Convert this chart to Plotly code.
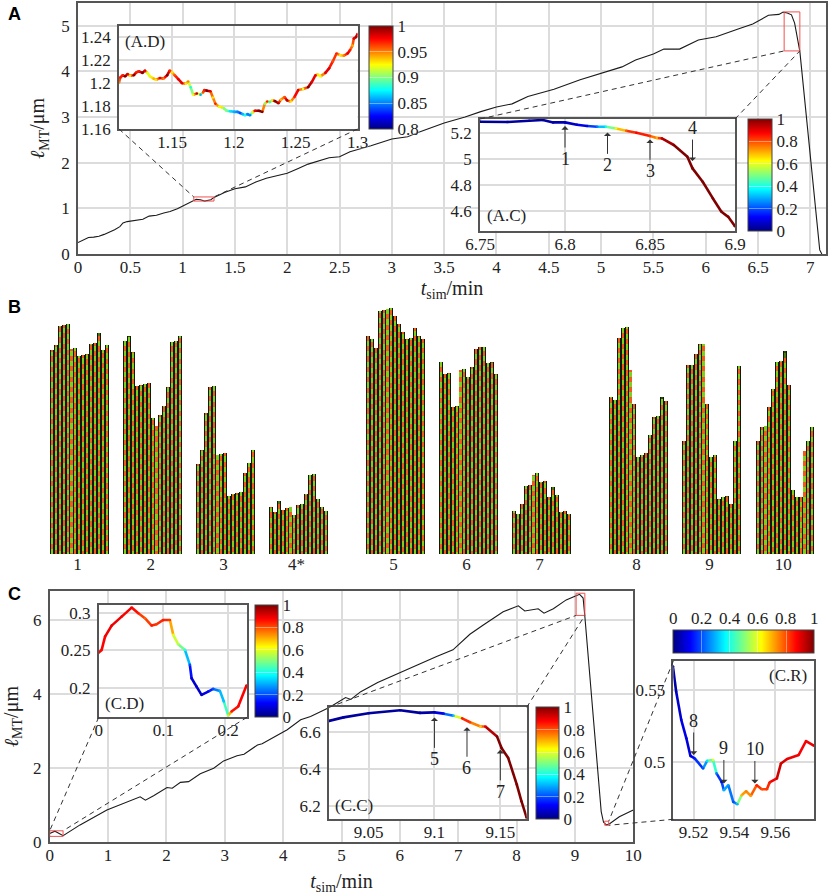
import plotly.graph_objects as go
from plotly.colors import sample_colorscale

W, H = 829, 895

# panel A main trace
a_t = [0, .05, .1, .15, .2, .25, .3, .35, .4, .43, .47, .55, .62, .68, .75, .82, .88, .95, 1.02, 1.08, 1.13, 1.17,
       1.21, 1.27, 1.3, 1.4, 1.5, 1.6, 1.7, 1.8, 2.0, 2.1, 2.2, 2.4, 2.5, 2.6, 2.8, 3.0, 3.15, 3.27, 3.5, 3.7, 3.85,
       4.0, 4.15, 4.3, 4.55, 4.8, 5.05, 5.2, 5.33, 5.5, 5.6, 5.75, 5.93, 6.1, 6.31, 6.45, 6.6, 6.7, 6.74, 6.78, 6.82,
       6.85, 6.9, 7.09, 7.11]
a_len = [.25, .3, .36, .37, .39, .43, .48, .53, .6, .68, .71, .73, .76, .83, .85, .90, .93, .99, 1.07, 1.14, 1.2,
         1.19, 1.16, 1.19, 1.24, 1.35, 1.43, 1.47, 1.58, 1.66, 1.77, 1.87, 1.97, 2.11, 2.13, 2.24, 2.37, 2.52, 2.57,
         2.68, 2.87, 3.0, 3.12, 3.22, 3.29, 3.45, 3.61, 3.82, 4.0, 4.1, 4.25, 4.38, 4.49, 4.49, 4.69, 4.76, 4.93,
         5.04, 5.23, 5.25, 5.30, 5.28, 5.24, 5.06, 4.44, .09, 0]

# inset A.D
ad_t = [1.107, 1.108, 1.110, 1.112, 1.114, 1.116, 1.119, 1.121, 1.123, 1.126,
        1.128, 1.130, 1.132, 1.135, 1.137, 1.140, 1.143, 1.146, 1.148, 1.150,
        1.152, 1.155, 1.158, 1.161, 1.163, 1.165, 1.167, 1.170, 1.173, 1.175,
        1.176, 1.178, 1.181, 1.183, 1.185, 1.188, 1.190, 1.192, 1.194, 1.197,
        1.200, 1.203, 1.205, 1.207, 1.209, 1.211, 1.213, 1.215, 1.217, 1.220,
        1.223, 1.225, 1.227, 1.229, 1.231, 1.233, 1.236, 1.238, 1.241, 1.243,
        1.246, 1.249, 1.252, 1.256, 1.260, 1.263, 1.266, 1.268, 1.270, 1.274,
        1.277, 1.280, 1.283, 1.286, 1.289, 1.292, 1.294, 1.296, 1.297, 1.299, 1.300]
ad_len = [1.2006, 1.205, 1.207, 1.206, 1.208, 1.2065, 1.207, 1.2095, 1.2105, 1.209,
          1.211, 1.209, 1.206, 1.204, 1.203, 1.2045, 1.204, 1.207, 1.211, 1.2095,
          1.207, 1.2035, 1.200, 1.1995, 1.2015, 1.1965, 1.190, 1.191, 1.190, 1.192,
          1.194, 1.1935, 1.193, 1.1875, 1.182, 1.1795, 1.179, 1.178, 1.176, 1.1755,
          1.175, 1.175, 1.174, 1.173, 1.172, 1.173, 1.172, 1.1745, 1.176, 1.176,
          1.175, 1.182, 1.184, 1.1835, 1.185, 1.1845, 1.1825, 1.1855, 1.188, 1.185,
          1.184, 1.188, 1.194, 1.195, 1.1965, 1.201, 1.207, 1.2075, 1.206, 1.209,
          1.213, 1.219, 1.226, 1.2245, 1.224, 1.226, 1.229, 1.233, 1.239, 1.2405, 1.243]
ad_val = [.95, .97, .97, 1, .98, .93, 1, .97, .97, 1,
          .98, .92, .92, .94, .93, .98, .95, 1, .97, .93,
          .96, .98, .98, .93, .95, .88, .92, .99, .86, .96,
          .97, 1, .98, .93, .97, .92, .93, .9, .9, .87,
          .86, .85, .84, .86, .88, .85, .85, .92, .98, 1,
          1, .9, .97, .88, .93, 1, .99, .94, .96, .99,
          .93, .97, .98, .92, 1, .98, .98, .93, .92, .98,
          .98, .96, .97, .93, .95, .98, .97, .94, .98, .99, .98]

# inset A.C
ac_t = [6.750, 6.766, 6.779, 6.787, 6.793, 6.800, 6.807, 6.813, 6.819, 6.824, 6.830, 6.836, 6.842, 6.850, 6.854,
        6.857, 6.864, 6.872, 6.875, 6.881, 6.887, 6.892, 6.896, 6.900]
ac_len = [5.284, 5.282, 5.292, 5.297, 5.279, 5.279, 5.261, 5.251, 5.246, 5.246, 5.233, 5.215, 5.200, 5.174, 5.159,
          5.157, 5.106, 5.016, 4.927, 4.825, 4.697, 4.595, 4.556, 4.485]
ac_val = [.02, .03, .03, .03, .04, .05, .08, .12, .25, .38, .6, .78, .88, .82, .7, .93, 1, 1, 1, 1, 1, 1, 1, 1]

# panel C main trace
c_t = [0, .09, .23, .52, .98, 1.12, 1.55, 1.64, 1.78, 2.01, 2.1, 2.24, 2.38, 2.58, 2.81, 2.98, 3.21, 3.33, 3.56,
       3.64, 4.07, 4.3, 4.47, 4.79, 5.07, 5.16, 5.33, 5.62, 5.85, 6.1, 6.34, 6.63, 6.91, 7.2, 7.43, 7.77, 8.03, 8.14,
       8.37, 8.47, 8.63, 8.85, 9.02, 9.08, 9.14, 9.17, 9.45, 9.49, 9.54, 9.6, 9.76, 10]
c_len = [.24, .3, .18, .47, .87, .96, 1.23, 1.14, 1.26, 1.48, 1.46, 1.62, 1.64, 1.85, 2.0, 2.2, 2.34, 2.38, 2.63,
         2.66, 3.04, 3.31, 3.4, 3.64, 3.91, 3.86, 4.07, 4.32, 4.48, 4.66, 4.81, 5.02, 5.2, 5.62, 5.87, 6.23, 6.39,
         6.25, 6.31, 6.19, 6.31, 6.55, 6.66, 6.7, 6.6, 6.1, .83, .54, .47, .51, .69, .87]

# inset C.D
cd_t = [0, .0046, .0098, .020, .0355, .0509, .0612, .0714, .0817, .0894, .0997, .110, .1151, .1228, .1331, .1408,
        .1434, .1511, .1588, .1691, .1768, .1871, .1933, .200, .2051, .2154, .2282]
cd_len = [.247, .2506, .2685, .2833, .2954, .3075, .2999, .2932, .2833, .2851, .2909, .2909, .2708, .2582, .2506,
          .2305, .2125, .2013, .1901, .1946, .1982, .1955, .1812, .1624, .1677, .1745, .2027]
cd_val = [.87, .87, .88, .9, .88, .88, .85, .78, .85, .82, .85, .82, .6, .55, .42, .2, .08, .08, .07, .12, .2, .3,
          .32, .55, .85, .87, .88]

# inset C.C
cc_t = [9.020, 9.031, 9.05, 9.074, 9.089, 9.10, 9.107, 9.1145, 9.121, 9.127, 9.135, 9.1386, 9.1475, 9.151, 9.156,
        9.1625, 9.166, 9.17]
cc_len = [6.657, 6.676, 6.698, 6.714, 6.70, 6.703, 6.696, 6.685, 6.671, 6.65, 6.627, 6.627, 6.573, 6.511, 6.458,
          6.316, 6.227, 6.138]
cc_val = [.02, .03, .03, .03, .03, .05, .14, .32, .85, .82, .68, .9, 1, 1, 1, 1, 1, 1]

# inset C.R
cr_t = [9.5098, 9.5114, 9.5139, 9.5164, 9.5184, 9.5205, 9.5246, 9.5266, 9.5295, 9.5312, 9.5337, 9.5348, 9.537,
        9.5394, 9.5414, 9.5435, 9.5457, 9.548, 9.5509, 9.5534, 9.5559, 9.5572, 9.5608, 9.5628, 9.5658, 9.5715,
        9.5751, 9.5789]
cr_len = [.5663, .5488, .5291, .5163, .504, .5023, .4953, .5007, .5012, .4919, .486, .4802, .4837, .4721, .4705,
          .4767, .4795, .4763, .4837, .4809, .4809, .4856, .4884, .4988, .5019, .5047, .5144, .5112]
cr_val = [.02, .05, .1, .1, .08, .15, .2, .35, .6, .25, .1, .3, .28, .2, .3, .7, .75, .72, .85, .8, .82, .85, .92,
          .92, .9, .88, .88, .9]

# panel B column heights
group_labels = ["1", "2", "3", "4*", "5", "6", "7", "8", "9", "10"]
group_1 = [204, 209, 228, 229, 230, 205, 206, 198, 199, 200, 210, 211, 221, 204, 209]
group_2 = [213, 218, 202, 168, 169, 170, 171, 136, 128, 139, 148, 167, 212, 213, 218]
group_3 = [90, 104, 141, 167, 168, 99, 100, 101, 58, 60, 61, 62, 81, 91, 104]
group_4 = [47, 42, 53, 44, 46, 47, 39, 49, 50, 60, 79, 80, 55, 47, 43]
group_5 = [218, 215, 206, 243, 244, 245, 246, 238, 230, 222, 215, 216, 226, 218, 215]
group_6 = [192, 180, 181, 147, 148, 184, 185, 177, 187, 205, 207, 207, 191, 192, 180]
group_7 = [43, 40, 50, 68, 69, 79, 81, 72, 73, 57, 67, 59, 42, 43, 40]
group_8 = [157, 154, 216, 226, 227, 184, 150, 97, 99, 101, 119, 137, 138, 157, 153]
group_9 = [113, 189, 189, 200, 210, 210, 150, 97, 99, 55, 57, 58, 50, 113, 188]
group_10 = [113, 127, 128, 147, 165, 192, 193, 203, 169, 64, 57, 57, 103, 113, 127]
groups = [group_1, group_2, group_3, group_4, group_5, group_6, group_7, group_8, group_9, group_10]
group_left = [50, 123.3, 196, 269, 366, 439, 512, 609, 682, 755.7]

JET = [[0, "rgb(0,0,128)"], [.125, "rgb(0,0,255)"], [.375, "rgb(0,255,255)"], [.625, "rgb(255,255,0)"],
       [.875, "rgb(255,0,0)"], [1, "rgb(128,0,0)"]]
SERIF = "Liberation Serif"
TICKFONT = dict(family=SERIF, size=17, color="#222", shadow="0 0 2px white, 0 0 2px white")
GRID = "#dcdcdc"
SPINE = "#555555"
DASH = "5px,4px"


def xdom(a, b):
    return [a / W, b / W]


def ydom(top, bot):
    return [1 - bot / H, 1 - top / H]


def axis(dom, rng, tickvals, ticktext=None, anchor="y", title=None, standoff=8):
    # x axes sit closer to their labels than y axes
    is_x = anchor.startswith("y")
    ax = dict(domain=dom, range=rng, tickvals=tickvals, ticktext=ticktext or [str(v) for v in tickvals],
              anchor=anchor, showgrid=True, gridcolor=GRID, gridwidth=1.5, zeroline=False,
              showline=True, mirror=True, linecolor=SPINE, linewidth=1.5,
              ticks="" if is_x else "outside", ticklen=0 if is_x else 3, tickcolor="rgba(0,0,0,0)",
              ticklabelstandoff=-3 if is_x else 0, tickfont=TICKFONT)
    if title:
        ax["title"] = dict(text=title, font=dict(family=SERIF, size=20, color="#222"), standoff=standoff)
    return ax


T_TITLE = "<i>t</i><sub>sim</sub>/min"
L_TITLE = "<i>ℓ</i><sub>MT</sub>/μm"

layout = dict(width=W, height=H, margin=dict(l=0, r=0, t=0, b=0, autoexpand=False), paper_bgcolor="white",
              plot_bgcolor="white", showlegend=False, barmode="overlay", bargap=0, hovermode=False)

# axes, lower numbers are drawn under higher ones
A_X, A_Y = [0, 7.15], [0, 5.5]
AD_X, AD_Y = [1.107, 1.3], [1.16, 1.25]
AC_X, AC_Y = [6.75, 6.9], [4.45, 5.305]
C_X, C_Y = [0, 10], [0, 6.79]
CD_X, CD_Y = [0, .229], [.16, .311]
CC_X, CC_Y = [9.02, 9.17], [6.13, 6.73]
CR_X, CR_Y = [9.51, 9.579], [.46, .57]

boxes = dict(
    a=(78, 826, 3, 254), ad=(119, 357.5, 26, 129), ac=(480, 735, 119, 230.7),
    c=(49.7, 633.3, 591, 842.3), cd=(98.7, 247, 605, 717.3), cc=(329, 526.7, 707.3, 819.3),
    cr=(673.3, 814, 661, 819.3))

a_ticks = [0, .5, 1, 1.5, 2, 2.5, 3, 3.5, 4, 4.5, 5, 5.5, 6, 6.5, 7]
layout["xaxis"] = axis(xdom(*boxes["a"][:2]), A_X, a_ticks, anchor="y", title=T_TITLE, standoff=4)
layout["yaxis"] = axis(ydom(*boxes["a"][2:]), A_Y, [0, 1, 2, 3, 4, 5], anchor="x", title=L_TITLE, standoff=11)
layout["xaxis2"] = axis(xdom(*boxes["ad"][:2]), AD_X, [1.15, 1.2, 1.25, 1.3], anchor="y2")
layout["yaxis2"] = axis(ydom(*boxes["ad"][2:]), AD_Y, [1.16, 1.18, 1.2, 1.22, 1.24], anchor="x2")
layout["xaxis3"] = axis(xdom(*boxes["ac"][:2]), AC_X, [6.75, 6.8, 6.85, 6.9], anchor="y3")
layout["yaxis3"] = axis(ydom(*boxes["ac"][2:]), AC_Y, [4.6, 4.8, 5, 5.2], anchor="x3")

# panel B uses page pixels across and column height up
layout["xaxis4"] = dict(domain=[0, 1], range=[0, W], anchor="y4", showgrid=False, zeroline=False, showline=False,
                        tickvals=[g + 27.5 for g in group_left], ticktext=group_labels, ticks="",
                        ticklabelstandoff=-2, tickfont=TICKFONT)
layout["yaxis4"] = dict(domain=ydom(300, 554), range=[0, 254], anchor="x4", visible=False)

c_ticks = [0, 1, 2, 3, 4, 5, 6, 7, 8, 9, 10]
layout["xaxis5"] = axis(xdom(*boxes["c"][:2]), C_X, c_ticks, anchor="y5", title=T_TITLE, standoff=11)
layout["yaxis5"] = axis(ydom(*boxes["c"][2:]), C_Y, [0, 2, 4, 6], anchor="x5", title=L_TITLE, standoff=17)
layout["xaxis6"] = axis(xdom(*boxes["cd"][:2]), CD_X, [0, .1, .2], anchor="y6")
layout["yaxis6"] = axis(ydom(*boxes["cd"][2:]), CD_Y, [.2, .25, .3], anchor="x6")
layout["xaxis7"] = axis(xdom(*boxes["cc"][:2]), CC_X, [9.05, 9.1, 9.15], anchor="y7")
layout["yaxis7"] = axis(ydom(*boxes["cc"][2:]), CC_Y, [6.2, 6.4, 6.6], anchor="x7")
layout["xaxis8"] = axis(xdom(*boxes["cr"][:2]), CR_X, [9.52, 9.54, 9.56], anchor="y8")
layout["yaxis8"] = axis(ydom(*boxes["cr"][2:]), CR_Y, [.5, .55], anchor="x8")

fig = go.Figure(layout=layout)

fig.add_trace(go.Scatter(x=a_t, y=a_len, mode="lines", line=dict(color="#1a1a1a", width=1.1), xaxis="x", yaxis="y"))
fig.add_trace(go.Scatter(x=c_t, y=c_len, mode="lines", line=dict(color="#1a1a1a", width=1.1), xaxis="x5", yaxis="y5"))


def bar_colorbar(x, top, w, h, ticks, horizontal=False):
    cb = dict(x=x / W, y=1 - top / H, xanchor="left", yanchor="top", thickness=h if horizontal else w,
              len=(w / W) if horizontal else (h / H), lenmode="fraction", xpad=0, ypad=0,
              outlinecolor="#444", outlinewidth=1, tickvals=ticks, ticktext=[str(t) for t in ticks],
              ticks="inside", ticklen=h if horizontal else w, tickwidth=1, tickcolor="rgba(255,255,255,0.4)",
              tickfont=TICKFONT)
    if horizontal:
        cb["orientation"] = "h"
        cb["showticklabels"] = False
    return cb


def colored_line(xs, ys, vals, xa, ya, cmin, cmax, cb, width=2.6):
    # one segment per pair of readings, coloured from the jet scale
    for i in range(len(xs) - 1):
        v = ((vals[i] + vals[i + 1]) / 2 - cmin) / (cmax - cmin)
        col = sample_colorscale(JET, [v])[0]
        fig.add_trace(go.Scatter(x=xs[i:i + 2], y=ys[i:i + 2], mode="lines", line=dict(color=col, width=width),
                                 xaxis=xa, yaxis=ya))
    fig.add_trace(go.Scatter(x=xs, y=ys, mode="markers", xaxis=xa, yaxis=ya,
                             marker=dict(color=vals, colorscale=JET, cmin=cmin, cmax=cmax, size=width,
                                         colorbar=cb)))


fifth = [0, .2, .4, .6, .8, 1]
colored_line(ad_t, ad_len, ad_val, "x2", "y2", .8, 1, bar_colorbar(369, 26, 24, 103, [.8, .85, .9, .95, 1]))
colored_line(ac_t, ac_len, ac_val, "x3", "y3", 0, 1, bar_colorbar(748, 119, 23.5, 111.7, fifth))
colored_line(cd_t, cd_len, cd_val, "x6", "y6", 0, 1, bar_colorbar(254.7, 605, 23.3, 112.3, fifth))
colored_line(cc_t, cc_len, cc_val, "x7", "y7", 0, 1, bar_colorbar(536, 707.3, 23.3, 112, fifth))
colored_line(cr_t, cr_len, cr_val, "x8", "y8", 0, 1, bar_colorbar(673.3, 629.7, 140.7, 23, fifth, horizontal=True))

# panel B: columns are black, with alternating monomers on top of them
PITCH = 3.9
MONO = 5.2
cols_x, cols_h = [], []
dash_x, dash_base, dash_h, dash_col = [], [], [], []
for left, heights in zip(group_left, groups):
    for j, h in enumerate(heights):
        cx = left + PITCH * (j + .5)
        cols_x.append(cx)
        cols_h.append(h)
        nb = max(heights[max(j - 1, 0)], heights[min(j + 1, len(heights) - 1)])
        k = 0
        base = -((j * .9 + (j % 2) * MONO) % (2 * MONO))
        while base < h:
            top = min(base + MONO, h)
            exposed = base > nb
            green = "#4a7a10" if exposed else "#7fd01e"
            orange = "#2c4a0c" if exposed and j % 2 else "#f05a1e"
            if top > 0:
                dash_x.append(cx)
                dash_base.append(max(base, 0))
                dash_h.append(top - max(base, 0))
                dash_col.append(green if k % 2 == 0 else orange)
            base += MONO
            k += 1

fig.add_trace(go.Bar(x=cols_x, y=cols_h, width=PITCH, marker=dict(color="#0e1a06", line=dict(width=0)),
                     xaxis="x4", yaxis="y4"))
fig.add_trace(go.Bar(x=dash_x, y=dash_h, base=dash_base, width=2.1, marker=dict(color=dash_col, line=dict(width=0)),
                     xaxis="x4", yaxis="y4"))


# zoom rectangles and their dashed leaders
def to_px(box, xr, yr, x, y):
    px = box[0] + (x - xr[0]) / (xr[1] - xr[0]) * (box[1] - box[0])
    py = box[3] - (y - yr[0]) / (yr[1] - yr[0]) * (box[3] - box[2])
    return px, py


def leader(p0, p1):
    fig.add_shape(type="line", xref="paper", yref="paper", x0=p0[0] / W, y0=1 - p0[1] / H, x1=p1[0] / W,
                  y1=1 - p1[1] / H, line=dict(color="#333", width=1, dash=DASH), layer="above")


def zoom_rect(xa, ya, xr, yr):
    fig.add_shape(type="rect", xref=xa, yref=ya, x0=xr[0], x1=xr[1], y0=yr[0], y1=yr[1],
                  line=dict(color="#f25050", width=1), layer="above")


zoom_rect("x", "y", AD_X, AD_Y)
zoom_rect("x", "y", AC_X, AC_Y)
zoom_rect("x5", "y5", CD_X, CD_Y)
zoom_rect("x5", "y5", CC_X, CC_Y)
zoom_rect("x5", "y5", CR_X, CR_Y)

b = boxes
leader((b["ad"][0], b["ad"][3]), to_px(b["a"], A_X, A_Y, AD_X[0], AD_Y[1]))
leader((b["ad"][1], b["ad"][3]), to_px(b["a"], A_X, A_Y, AD_X[1], AD_Y[1]))
leader((b["ac"][0], b["ac"][2]), to_px(b["a"], A_X, A_Y, AC_X[0], AC_Y[0]))
leader((b["ac"][1], b["ac"][2]), to_px(b["a"], A_X, A_Y, AC_X[1], AC_Y[0]))
leader((b["cd"][0], b["cd"][3]), to_px(b["c"], C_X, C_Y, CD_X[0], CD_Y[1]))
leader((b["cd"][1], b["cd"][3]), to_px(b["c"], C_X, C_Y, CD_X[1], CD_Y[1]))
leader((b["cc"][0], b["cc"][2]), to_px(b["c"], C_X, C_Y, CC_X[0], CC_Y[0]))
leader((b["cc"][1], b["cc"][2]), to_px(b["c"], C_X, C_Y, CC_X[1], CC_Y[0]))
leader((b["cr"][0], b["cr"][2]), to_px(b["c"], C_X, C_Y, CR_X[1], CR_Y[1]))
leader((b["cr"][0], b["cr"][3]), to_px(b["c"], C_X, C_Y, CR_X[1], CR_Y[0]))


def arrow(label, xa, ya, x, y, ay):
    fig.add_annotation(text=label, x=x, y=y, xref=xa, yref=ya, ax=0, ay=ay, showarrow=True, arrowhead=1,
                       arrowsize=1.2, arrowwidth=1, arrowcolor="#333", font=dict(family=SERIF, size=18, color="#222"))


arrow("1", "x3", "y3", 6.8, 5.251, 33)
arrow("2", "x3", "y3", 6.825, 5.2025, 33)
arrow("3", "x3", "y3", 6.85, 5.149, 32)
arrow("4", "x3", "y3", 6.875, 4.983, -33)
arrow("5", "x7", "y7", 9.10, 6.676, 42)
arrow("6", "x7", "y7", 9.1247, 6.623, 41)
arrow("7", "x7", "y7", 9.15, 6.502, 42)
arrow("8", "x8", "y8", 9.52, .5047, -34)
arrow("9", "x8", "y8", 9.5348, .4849, -35)
arrow("10", "x8", "y8", 9.55, .4849, -34)


def page_text(s, x, y, anchor="left", family=SERIF, size=17, bold=False):
    fig.add_annotation(text="<b>%s</b>" % s if bold else s, x=x / W, y=1 - y / H, xref="paper", yref="paper",
                       xanchor=anchor, yanchor="middle", showarrow=False,
                       font=dict(family=family, size=size, color="black" if bold else "#222"))


page_text("(A.D)", 123, 41)
page_text("(A.C)", 485, 216)
page_text("(C.D)", 103, 703)
page_text("(C.C)", 333, 805)
page_text("(C.R)", 809, 675, anchor="right")
page_text("A", 6, 14, family="Liberation Sans", size=18, bold=True)
page_text("B", 6, 307, family="Liberation Sans", size=18, bold=True)
page_text("C", 6, 594, family="Liberation Sans", size=18, bold=True)
for v in fifth:
    page_text(str(v), 673.3 + v * 140.7, 618, anchor="center")

# the page keeps a default body margin otherwise
fig.write_html("out.html", config={"displayModeBar": False}, post_script="document.body.style.margin='0';")
